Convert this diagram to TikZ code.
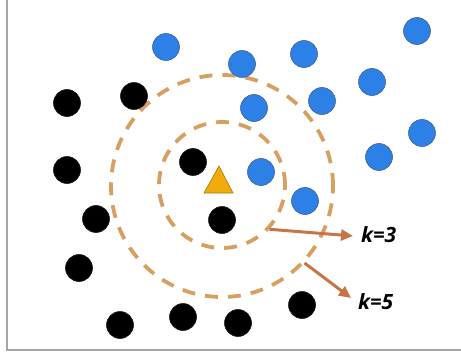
\documentclass[tikz,border=0pt]{standalone}
\usepackage{fontspec}
\setsansfont{Open Sans}
\usepackage{tikz}
\usetikzlibrary{arrows.meta}

\definecolor{ptblue}{RGB}{45,128,230}
\definecolor{blueedge}{RGB}{70,100,150}
\definecolor{ringtan}{RGB}{216,160,96}
\definecolor{arrowbrown}{RGB}{200,116,70}
\definecolor{queryorange}{RGB}{240,172,10}

\tikzset{
  bluept/.style={circle, fill=ptblue, draw=blueedge, line width=0.6pt, minimum size=27pt, inner sep=0pt},
  blackpt/.style={circle, fill=black, draw=black!80!brown, line width=0.6pt, minimum size=27pt, inner sep=0pt},
  ring/.style={circle, draw=ringtan, line width=3.8pt, dash pattern=on 13pt off 10pt, inner sep=0pt},
  pointer/.style={draw=arrowbrown, line width=3pt, -{Triangle[length=12pt,width=11pt]}},
  klabel/.style={anchor=west, inner sep=1pt, font=\sffamily\bfseries\itshape\fontsize{21}{22}\selectfont}
}

\begin{document}
\begin{tikzpicture}[x=1pt,y=-1pt]
    \useasboundingbox (0,0) rectangle (461,353);
    \draw[gray!70, line width=1.2pt] (7,0) -- (7,350) -- (461,350);

    % search radii
    \node[ring, minimum size=126pt] (inner) at (222,185) {};
    \node[ring, minimum size=222pt] (outer) at (222,186) {};

    % class A
    \node[bluept] (b1) at (166,47) {};
    \node[bluept] (b2) at (242,64) {};
    \node[bluept] (b3) at (304,54) {};
    \node[bluept] (b4) at (417,31) {};
    \node[bluept] (b5) at (372,82) {};
    \node[bluept] (b6) at (322,101) {};
    \node[bluept] (b7) at (254,108) {};
    \node[bluept] (b8) at (422,133) {};
    \node[bluept] (b9) at (379,157) {};
    \node[bluept] (b10) at (261,172) {};
    \node[bluept] (b11) at (305,201) {};

    % class B
    \node[blackpt] (k1) at (67,103) {};
    \node[blackpt] (k2) at (134,96) {};
    \node[blackpt] (k3) at (67,170) {};
    \node[blackpt] (k4) at (193,162) {};
    \node[blackpt] (k5) at (96,219) {};
    \node[blackpt] (k6) at (222,220) {};
    \node[blackpt] (k7) at (79,268) {};
    \node[blackpt] (k8) at (302,305) {};
    \node[blackpt] (k9) at (120,325) {};
    \node[blackpt] (k10) at (183,317) {};
    \node[blackpt] (k11) at (238,323) {};

    % query point
    \filldraw[fill=queryorange, draw=queryorange!70!black, line width=0.6pt] (204,193) -- (219,166) -- (233,193) -- cycle;

    \node[klabel] (lblthree) at (360,235) {k=3};
    \node[klabel] (lblfive) at (357,302) {k=5};
    \coordinate (tipthree) at (353,236);
    \coordinate (tipfive) at (351,298);

    \draw[pointer] (inner.-43) -- (tipthree);
    \draw[pointer] (outer.-43) -- (tipfive);
\end{tikzpicture}
\end{document}
